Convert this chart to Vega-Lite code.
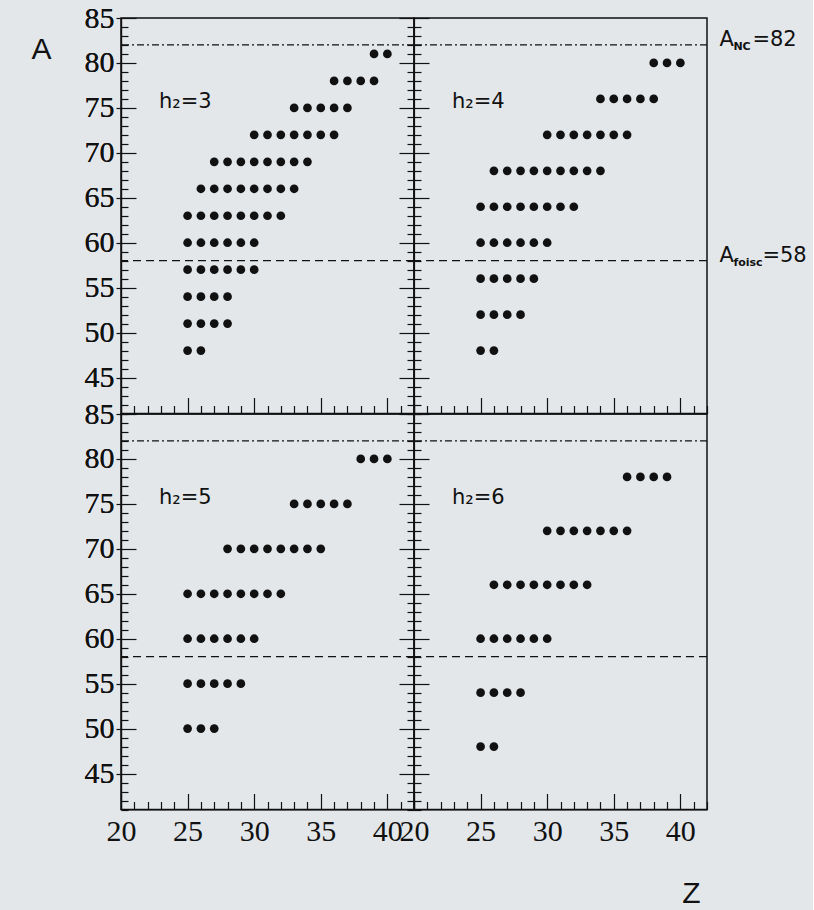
{
  "$schema": "https://vega.github.io/schema/vega-lite/v6.json",
  "background": "#e3e7ea",
  "autosize": {"type": "pad"},
  "padding": {"left": 30, "top": 2, "right": 5, "bottom": 5},
  "config": {
    "view": {"stroke": "#111", "strokeWidth": 1.5, "fill": null},
    "axis": {
      "grid": false,
      "domainColor": "#111",
      "domainWidth": 1.2,
      "tickColor": "#111",
      "tickWidth": 1.2,
      "labelColor": "#111",
      "labelFont": "Liberation Serif",
      "labelFontSize": 30,
      "labelOverlap": false,
      "labelFlush": false,
      "labelBound": false,
      "titleColor": "#111"
    },
    "text": {"font": "DejaVu Sans", "color": "#111"}
  },
  "datasets": {
    "nuclei": [
      {"h":3,"Z":39,"A":81},{"h":3,"Z":40,"A":81},
      {"h":3,"Z":36,"A":78},{"h":3,"Z":37,"A":78},{"h":3,"Z":38,"A":78},{"h":3,"Z":39,"A":78},
      {"h":3,"Z":33,"A":75},{"h":3,"Z":34,"A":75},{"h":3,"Z":35,"A":75},{"h":3,"Z":36,"A":75},{"h":3,"Z":37,"A":75},
      {"h":3,"Z":30,"A":72},{"h":3,"Z":31,"A":72},{"h":3,"Z":32,"A":72},{"h":3,"Z":33,"A":72},{"h":3,"Z":34,"A":72},{"h":3,"Z":35,"A":72},{"h":3,"Z":36,"A":72},
      {"h":3,"Z":27,"A":69},{"h":3,"Z":28,"A":69},{"h":3,"Z":29,"A":69},{"h":3,"Z":30,"A":69},{"h":3,"Z":31,"A":69},{"h":3,"Z":32,"A":69},{"h":3,"Z":33,"A":69},{"h":3,"Z":34,"A":69},
      {"h":3,"Z":26,"A":66},{"h":3,"Z":27,"A":66},{"h":3,"Z":28,"A":66},{"h":3,"Z":29,"A":66},{"h":3,"Z":30,"A":66},{"h":3,"Z":31,"A":66},{"h":3,"Z":32,"A":66},{"h":3,"Z":33,"A":66},
      {"h":3,"Z":25,"A":63},{"h":3,"Z":26,"A":63},{"h":3,"Z":27,"A":63},{"h":3,"Z":28,"A":63},{"h":3,"Z":29,"A":63},{"h":3,"Z":30,"A":63},{"h":3,"Z":31,"A":63},{"h":3,"Z":32,"A":63},
      {"h":3,"Z":25,"A":60},{"h":3,"Z":26,"A":60},{"h":3,"Z":27,"A":60},{"h":3,"Z":28,"A":60},{"h":3,"Z":29,"A":60},{"h":3,"Z":30,"A":60},
      {"h":3,"Z":25,"A":57},{"h":3,"Z":26,"A":57},{"h":3,"Z":27,"A":57},{"h":3,"Z":28,"A":57},{"h":3,"Z":29,"A":57},{"h":3,"Z":30,"A":57},
      {"h":3,"Z":25,"A":54},{"h":3,"Z":26,"A":54},{"h":3,"Z":27,"A":54},{"h":3,"Z":28,"A":54},
      {"h":3,"Z":25,"A":51},{"h":3,"Z":26,"A":51},{"h":3,"Z":27,"A":51},{"h":3,"Z":28,"A":51},
      {"h":3,"Z":25,"A":48},{"h":3,"Z":26,"A":48},

      {"h":4,"Z":38,"A":80},{"h":4,"Z":39,"A":80},{"h":4,"Z":40,"A":80},
      {"h":4,"Z":34,"A":76},{"h":4,"Z":35,"A":76},{"h":4,"Z":36,"A":76},{"h":4,"Z":37,"A":76},{"h":4,"Z":38,"A":76},
      {"h":4,"Z":30,"A":72},{"h":4,"Z":31,"A":72},{"h":4,"Z":32,"A":72},{"h":4,"Z":33,"A":72},{"h":4,"Z":34,"A":72},{"h":4,"Z":35,"A":72},{"h":4,"Z":36,"A":72},
      {"h":4,"Z":26,"A":68},{"h":4,"Z":27,"A":68},{"h":4,"Z":28,"A":68},{"h":4,"Z":29,"A":68},{"h":4,"Z":30,"A":68},{"h":4,"Z":31,"A":68},{"h":4,"Z":32,"A":68},{"h":4,"Z":33,"A":68},{"h":4,"Z":34,"A":68},
      {"h":4,"Z":25,"A":64},{"h":4,"Z":26,"A":64},{"h":4,"Z":27,"A":64},{"h":4,"Z":28,"A":64},{"h":4,"Z":29,"A":64},{"h":4,"Z":30,"A":64},{"h":4,"Z":31,"A":64},{"h":4,"Z":32,"A":64},
      {"h":4,"Z":25,"A":60},{"h":4,"Z":26,"A":60},{"h":4,"Z":27,"A":60},{"h":4,"Z":28,"A":60},{"h":4,"Z":29,"A":60},{"h":4,"Z":30,"A":60},
      {"h":4,"Z":25,"A":56},{"h":4,"Z":26,"A":56},{"h":4,"Z":27,"A":56},{"h":4,"Z":28,"A":56},{"h":4,"Z":29,"A":56},
      {"h":4,"Z":25,"A":52},{"h":4,"Z":26,"A":52},{"h":4,"Z":27,"A":52},{"h":4,"Z":28,"A":52},
      {"h":4,"Z":25,"A":48},{"h":4,"Z":26,"A":48},

      {"h":5,"Z":38,"A":80},{"h":5,"Z":39,"A":80},{"h":5,"Z":40,"A":80},
      {"h":5,"Z":33,"A":75},{"h":5,"Z":34,"A":75},{"h":5,"Z":35,"A":75},{"h":5,"Z":36,"A":75},{"h":5,"Z":37,"A":75},
      {"h":5,"Z":28,"A":70},{"h":5,"Z":29,"A":70},{"h":5,"Z":30,"A":70},{"h":5,"Z":31,"A":70},{"h":5,"Z":32,"A":70},{"h":5,"Z":33,"A":70},{"h":5,"Z":34,"A":70},{"h":5,"Z":35,"A":70},
      {"h":5,"Z":25,"A":65},{"h":5,"Z":26,"A":65},{"h":5,"Z":27,"A":65},{"h":5,"Z":28,"A":65},{"h":5,"Z":29,"A":65},{"h":5,"Z":30,"A":65},{"h":5,"Z":31,"A":65},{"h":5,"Z":32,"A":65},
      {"h":5,"Z":25,"A":60},{"h":5,"Z":26,"A":60},{"h":5,"Z":27,"A":60},{"h":5,"Z":28,"A":60},{"h":5,"Z":29,"A":60},{"h":5,"Z":30,"A":60},
      {"h":5,"Z":25,"A":55},{"h":5,"Z":26,"A":55},{"h":5,"Z":27,"A":55},{"h":5,"Z":28,"A":55},{"h":5,"Z":29,"A":55},
      {"h":5,"Z":25,"A":50},{"h":5,"Z":26,"A":50},{"h":5,"Z":27,"A":50},

      {"h":6,"Z":36,"A":78},{"h":6,"Z":37,"A":78},{"h":6,"Z":38,"A":78},{"h":6,"Z":39,"A":78},
      {"h":6,"Z":30,"A":72},{"h":6,"Z":31,"A":72},{"h":6,"Z":32,"A":72},{"h":6,"Z":33,"A":72},{"h":6,"Z":34,"A":72},{"h":6,"Z":35,"A":72},{"h":6,"Z":36,"A":72},
      {"h":6,"Z":26,"A":66},{"h":6,"Z":27,"A":66},{"h":6,"Z":28,"A":66},{"h":6,"Z":29,"A":66},{"h":6,"Z":30,"A":66},{"h":6,"Z":31,"A":66},{"h":6,"Z":32,"A":66},{"h":6,"Z":33,"A":66},
      {"h":6,"Z":25,"A":60},{"h":6,"Z":26,"A":60},{"h":6,"Z":27,"A":60},{"h":6,"Z":28,"A":60},{"h":6,"Z":29,"A":60},{"h":6,"Z":30,"A":60},
      {"h":6,"Z":25,"A":54},{"h":6,"Z":26,"A":54},{"h":6,"Z":27,"A":54},{"h":6,"Z":28,"A":54},
      {"h":6,"Z":25,"A":48},{"h":6,"Z":26,"A":48}
    ],
    "limits": [
      {"A": 82, "sub": "NC", "style": "dashdot"},
      {"A": 58, "sub": "foisc", "style": "dash"}
    ]
  },
  "columns": 2,
  "spacing": 0,
  "bounds": "flush",
  "concat": [
    {
      "width": 293, "height": 395.5,
      "layer": [
        {
          "data": {"name": "limits"},
          "mark": {"type": "rule", "color": "#111", "strokeWidth": 1.3},
          "encoding": {
            "y": {"field": "A", "type": "quantitative", "scale": {"domain": [41, 85], "nice": false, "zero": false},
              "axis": {"orient": "right", "title": null, "labels": false, "domain": false, "tickCount": 60,
                "values": [41,42,43,44,45,46,47,48,49,50,51,52,53,54,55,56,57,58,59,60,61,62,63,64,65,66,67,68,69,70,71,72,73,74,75,76,77,78,79,80,81,82,83,84,85],
                "tickSize": {"condition": {"test": "datum.value % 5 === 0", "value": -15}, "value": -7}}},
            "strokeDash": {"field": "style", "type": "nominal", "legend": null,
              "scale": {"domain": ["dash", "dashdot"], "range": [[8, 5], [7, 3, 2, 3]]}}
          }
        },
        {
          "data": {"name": "nuclei"},
          "transform": [{"filter": "datum.h === 3"}],
          "mark": {"type": "circle", "size": 76, "color": "#111", "opacity": 1},
          "encoding": {
            "x": {"field": "Z", "type": "quantitative", "scale": {"domain": [20, 42], "nice": false, "zero": false},
              "axis": {"title": null, "labels": false, "tickCount": 60,
                "values": [20,21,22,23,24,25,26,27,28,29,30,31,32,33,34,35,36,37,38,39,40,41,42],
                "tickSize": {"condition": {"test": "datum.value % 5 === 0", "value": -16}, "value": -8}}},
            "y": {"field": "A", "type": "quantitative", "scale": {"domain": [41, 85], "nice": false, "zero": false},
              "axis": {"title": "A", "titleAngle": 0, "titleX": -80, "titleY": 31, "titleAlign": "center", "titleBaseline": "middle",
                "titleFont": "Liberation Sans", "titleFontSize": 30, "titleFontWeight": "normal",
                "tickCount": 60, "format": "d",
                "values": [41,42,43,44,45,46,47,48,49,50,51,52,53,54,55,56,57,58,59,60,61,62,63,64,65,66,67,68,69,70,71,72,73,74,75,76,77,78,79,80,81,82,83,84,85],
                "labelExpr": "datum.value % 5 === 0 ? '' + datum.value : ''",
                "labelPadding": 22,
                "tickSize": {"condition": {"test": "datum.value % 5 === 0", "value": -15}, "value": -7}}}
          }
        },
        {
          "data": {"values": [{"label": "h₂=3"}]},
          "mark": {"type": "text", "fontSize": 21, "align": "left", "baseline": "middle"},
          "encoding": {"x": {"datum": 22.85}, "y": {"datum": 75.6}, "text": {"field": "label"}}
        }
      ],
      "resolve": {"axis": {"y": "independent"}}
    },
    {
      "width": 293, "height": 395.5,
      "layer": [
        {
          "data": {"name": "limits"},
          "mark": {"type": "rule", "color": "#111", "strokeWidth": 1.3},
          "encoding": {
            "y": {"field": "A", "type": "quantitative", "scale": {"domain": [41, 85], "nice": false, "zero": false}},
            "strokeDash": {"field": "style", "type": "nominal", "legend": null,
              "scale": {"domain": ["dash", "dashdot"], "range": [[8, 5], [7, 3, 2, 3]]}}
          }
        },
        {
          "data": {"name": "nuclei"},
          "transform": [{"filter": "datum.h === 4"}],
          "mark": {"type": "circle", "size": 76, "color": "#111", "opacity": 1},
          "encoding": {
            "x": {"field": "Z", "type": "quantitative", "scale": {"domain": [20, 42], "nice": false, "zero": false},
              "axis": {"title": null, "labels": false, "tickCount": 60,
                "values": [20,21,22,23,24,25,26,27,28,29,30,31,32,33,34,35,36,37,38,39,40,41,42],
                "tickSize": {"condition": {"test": "datum.value % 5 === 0", "value": -16}, "value": -8}}},
            "y": {"field": "A", "type": "quantitative", "scale": {"domain": [41, 85], "nice": false, "zero": false},
              "axis": {"title": null, "labels": false, "tickCount": 60,
                "values": [41,42,43,44,45,46,47,48,49,50,51,52,53,54,55,56,57,58,59,60,61,62,63,64,65,66,67,68,69,70,71,72,73,74,75,76,77,78,79,80,81,82,83,84,85],
                "tickSize": {"condition": {"test": "datum.value % 5 === 0", "value": -15}, "value": -7}}}
          }
        },
        {
          "data": {"values": [{"label": "h₂=4"}]},
          "mark": {"type": "text", "fontSize": 21, "align": "left", "baseline": "middle"},
          "encoding": {"x": {"datum": 22.85}, "y": {"datum": 75.6}, "text": {"field": "label"}}
        },
        {
          "data": {"name": "limits"},
          "mark": {"type": "text", "fontSize": 21, "align": "left", "baseline": "alphabetic", "dy": 1},
          "encoding": {"x": {"datum": 42.93}, "y": {"field": "A", "type": "quantitative"}, "text": {"value": "A"}}
        },
        {
          "data": {"name": "limits"},
          "mark": {"type": "text", "fontSize": 11, "fontWeight": "bold", "align": "left", "baseline": "alphabetic", "dx": 14, "dy": 5},
          "encoding": {"x": {"datum": 42.93}, "y": {"field": "A", "type": "quantitative"}, "text": {"field": "sub"}}
        },
        {
          "data": {"name": "limits"},
          "transform": [{"filter": "datum.A === 82"}, {"calculate": "'=' + datum.A", "as": "eq"}],
          "mark": {"type": "text", "fontSize": 21, "align": "left", "baseline": "alphabetic", "dx": 33, "dy": 1},
          "encoding": {"x": {"datum": 42.93}, "y": {"field": "A", "type": "quantitative"}, "text": {"field": "eq"}}
        },
        {
          "data": {"name": "limits"},
          "transform": [{"filter": "datum.A === 58"}, {"calculate": "'=' + datum.A", "as": "eq"}],
          "mark": {"type": "text", "fontSize": 21, "align": "left", "baseline": "alphabetic", "dx": 43, "dy": 1},
          "encoding": {"x": {"datum": 42.93}, "y": {"field": "A", "type": "quantitative"}, "text": {"field": "eq"}}
        }
      ]
    },
    {
      "width": 293, "height": 395.5,
      "layer": [
        {
          "data": {"name": "limits"},
          "mark": {"type": "rule", "color": "#111", "strokeWidth": 1.3},
          "encoding": {
            "y": {"field": "A", "type": "quantitative", "scale": {"domain": [41, 85], "nice": false, "zero": false},
              "axis": {"orient": "right", "title": null, "labels": false, "domain": false, "tickCount": 60,
                "values": [41,42,43,44,45,46,47,48,49,50,51,52,53,54,55,56,57,58,59,60,61,62,63,64,65,66,67,68,69,70,71,72,73,74,75,76,77,78,79,80,81,82,83,84,85],
                "tickSize": {"condition": {"test": "datum.value % 5 === 0", "value": -15}, "value": -7}}},
            "strokeDash": {"field": "style", "type": "nominal", "legend": null,
              "scale": {"domain": ["dash", "dashdot"], "range": [[8, 5], [7, 3, 2, 3]]}}
          }
        },
        {
          "data": {"name": "nuclei"},
          "transform": [{"filter": "datum.h === 5"}],
          "mark": {"type": "circle", "size": 76, "color": "#111", "opacity": 1},
          "encoding": {
            "x": {"field": "Z", "type": "quantitative", "scale": {"domain": [20, 42], "nice": false, "zero": false},
              "axis": {"title": null, "tickCount": 60, "format": "d",
                "values": [20,21,22,23,24,25,26,27,28,29,30,31,32,33,34,35,36,37,38,39,40,41,42],
                "labelExpr": "datum.value % 5 === 0 ? '' + datum.value : ''",
                "labelPadding": 23,
                "tickSize": {"condition": {"test": "datum.value % 5 === 0", "value": -16}, "value": -8}}},
            "y": {"field": "A", "type": "quantitative", "scale": {"domain": [41, 85], "nice": false, "zero": false},
              "axis": {"title": null, "tickCount": 60, "format": "d",
                "values": [41,42,43,44,45,46,47,48,49,50,51,52,53,54,55,56,57,58,59,60,61,62,63,64,65,66,67,68,69,70,71,72,73,74,75,76,77,78,79,80,81,82,83,84,85],
                "labelExpr": "datum.value % 5 === 0 ? '' + datum.value : ''",
                "labelPadding": 22,
                "tickSize": {"condition": {"test": "datum.value % 5 === 0", "value": -15}, "value": -7}}}
          }
        },
        {
          "data": {"values": [{"label": "h₂=5"}]},
          "mark": {"type": "text", "fontSize": 21, "align": "left", "baseline": "middle"},
          "encoding": {"x": {"datum": 22.85}, "y": {"datum": 75.6}, "text": {"field": "label"}}
        }
      ],
      "resolve": {"axis": {"y": "independent"}}
    },
    {
      "width": 293, "height": 395.5,
      "layer": [
        {
          "data": {"name": "limits"},
          "mark": {"type": "rule", "color": "#111", "strokeWidth": 1.3},
          "encoding": {
            "y": {"field": "A", "type": "quantitative", "scale": {"domain": [41, 85], "nice": false, "zero": false}},
            "strokeDash": {"field": "style", "type": "nominal", "legend": null,
              "scale": {"domain": ["dash", "dashdot"], "range": [[8, 5], [7, 3, 2, 3]]}}
          }
        },
        {
          "data": {"name": "nuclei"},
          "transform": [{"filter": "datum.h === 6"}],
          "mark": {"type": "circle", "size": 76, "color": "#111", "opacity": 1},
          "encoding": {
            "x": {"field": "Z", "type": "quantitative", "scale": {"domain": [20, 42], "nice": false, "zero": false},
              "axis": {"title": "Z", "titleX": 277, "titleY": 84, "titleAlign": "center", "titleBaseline": "middle",
                "titleFont": "Liberation Sans", "titleFontSize": 30, "titleFontWeight": "normal",
                "tickCount": 60, "format": "d",
                "values": [20,21,22,23,24,25,26,27,28,29,30,31,32,33,34,35,36,37,38,39,40,41,42],
                "labelExpr": "datum.value % 5 === 0 ? '' + datum.value : ''",
                "labelPadding": 23,
                "tickSize": {"condition": {"test": "datum.value % 5 === 0", "value": -16}, "value": -8}}},
            "y": {"field": "A", "type": "quantitative", "scale": {"domain": [41, 85], "nice": false, "zero": false},
              "axis": {"title": null, "labels": false, "tickCount": 60,
                "values": [41,42,43,44,45,46,47,48,49,50,51,52,53,54,55,56,57,58,59,60,61,62,63,64,65,66,67,68,69,70,71,72,73,74,75,76,77,78,79,80,81,82,83,84,85],
                "tickSize": {"condition": {"test": "datum.value % 5 === 0", "value": -15}, "value": -7}}}
          }
        },
        {
          "data": {"values": [{"label": "h₂=6"}]},
          "mark": {"type": "text", "fontSize": 21, "align": "left", "baseline": "middle"},
          "encoding": {"x": {"datum": 22.85}, "y": {"datum": 75.6}, "text": {"field": "label"}}
        }
      ]
    }
  ]
}
